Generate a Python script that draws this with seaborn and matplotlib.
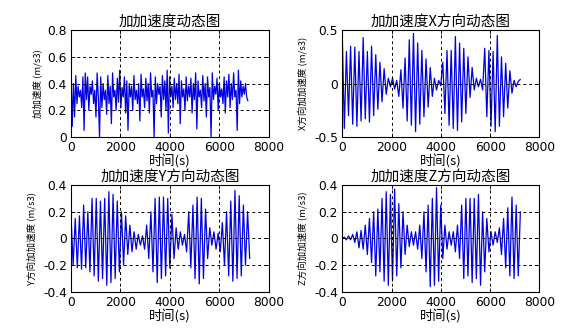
import numpy as np
import pandas as pd
import matplotlib
matplotlib.use("Agg")
import matplotlib.pyplot as plt
import seaborn as sns

sns.set_theme(style="white")
plt.rcParams['font.family'] = ['Noto Sans CJK SC', 'DejaVu Sans']
plt.rcParams['axes.unicode_minus'] = False

# ---- data ----
dt_total = 48   # sample spacing (s) of the magnitude trace
dt_axis = 85    # sample spacing (s) of the X/Y/Z traces

total_vals = [
    0.45, 0.08, 0.40, 0.15, 0.46, 0.25, 0.38, 0.30, 0.35, 0.22,
    0.45, 0.05, 0.48, 0.28, 0.45, 0.20, 0.38, 0.32, 0.42, 0.25,
    0.35, 0.15, 0.48, 0.30, 0.00, 0.45, 0.22, 0.40, 0.28, 0.35,
    0.17, 0.46, 0.25, 0.38, 0.10, 0.48, 0.30, 0.35, 0.20, 0.44,
    0.26, 0.50, 0.22, 0.37, 0.30, 0.45, 0.18, 0.42, 0.05, 0.40,
    0.30, 0.38, 0.20, 0.46, 0.28, 0.35, 0.25, 0.40, 0.12, 0.47,
    0.30, 0.36, 0.22, 0.44, 0.27, 0.40, 0.18, 0.48, 0.30, 0.35,
    0.00, 0.45, 0.25, 0.40, 0.32, 0.38, 0.15, 0.46, 0.28, 0.42,
    0.20, 0.50, 0.03, 0.45, 0.30, 0.38, 0.22, 0.44, 0.28, 0.40,
    0.25, 0.47, 0.10, 0.42, 0.30, 0.36, 0.20, 0.45, 0.27, 0.38,
    0.30, 0.44, 0.18, 0.40, 0.28, 0.48, 0.06, 0.42, 0.30, 0.35,
    0.22, 0.46, 0.27, 0.40, 0.15, 0.45, 0.30, 0.37, 0.00, 0.48,
    0.28, 0.38, 0.32, 0.44, 0.20, 0.40, 0.30, 0.36, 0.25, 0.45,
    0.18, 0.42, 0.30, 0.47, 0.22, 0.40, 0.28, 0.48, 0.30, 0.35,
    0.05, 0.50, 0.25, 0.42, 0.30, 0.38, 0.32, 0.40, 0.30, 0.27,
]

x_vals = [
    0.47, -0.42, 0.30, -0.30, 0.35, -0.38, 0.34, -0.40, 0.30, -0.35,
    0.43, -0.33, 0.30, -0.36, 0.35, -0.30, 0.27, -0.24, 0.20, -0.17,
    0.14, -0.10, 0.05, -0.03, 0.05, -0.05, 0.03, -0.12, 0.13, -0.23,
    0.24, -0.35, 0.41, -0.39, 0.47, -0.45, 0.38, -0.38, 0.31, -0.31,
    0.23, -0.22, 0.15, -0.12, 0.05, -0.06, 0.03, -0.02, 0.20, -0.28,
    0.31, -0.39, 0.31, -0.42, 0.44, -0.44, 0.38, -0.36, 0.33, -0.28,
    0.25, -0.13, 0.15, -0.06, 0.05, -0.03, 0.04, -0.06, 0.33, -0.31,
    0.31, -0.40, 0.30, -0.45, 0.45, -0.40, 0.25, -0.31, 0.19, -0.23,
    0.12, -0.09, 0.03, -0.03, 0.02, 0.04,
]

y_vals = [
    0.17, -0.20, 0.15, -0.22, 0.17, -0.23, 0.25, -0.22, 0.20, -0.25,
    0.30, -0.28, 0.30, -0.32, 0.28, -0.30, 0.30, -0.35, 0.35, -0.33,
    0.33, -0.30, 0.28, -0.25, 0.20, -0.20, 0.17, -0.12, 0.10, -0.10,
    0.05, -0.08, 0.03, -0.05, 0.02, -0.08, 0.10, -0.15, 0.20, -0.25,
    0.30, -0.33, 0.31, -0.30, 0.31, -0.28, 0.30, -0.22, 0.18, -0.15,
    0.08, -0.08, 0.05, -0.05, 0.03, -0.10, 0.20, -0.22, 0.25, -0.30,
    0.31, -0.34, 0.30, -0.30, 0.22, -0.15, 0.08, -0.05, 0.05, -0.08,
    0.04, -0.10, 0.12, -0.20, 0.20, -0.28, 0.28, -0.32, 0.36, -0.30,
    0.32, -0.28, 0.25, -0.20, 0.20, -0.15,
]

z_vals = [
    0.00, 0.01, -0.01, 0.02, -0.01, 0.03, -0.03, 0.05, -0.07, 0.06,
    -0.08, 0.10, -0.12, 0.15, -0.18, 0.20, -0.28, 0.22, -0.25, 0.30,
    -0.32, 0.35, -0.35, 0.33, -0.32, 0.37, -0.28, 0.26, -0.22, 0.20,
    -0.12, 0.10, -0.06, 0.05, -0.05, 0.05, -0.08, 0.10, -0.15, 0.20,
    -0.25, 0.25, -0.36, 0.30, -0.35, 0.38, -0.32, 0.25, -0.15, 0.10,
    -0.08, 0.05, -0.05, 0.05, -0.10, 0.10, -0.15, 0.25, -0.30, 0.30,
    -0.28, 0.30, -0.33, 0.30, -0.30, 0.33, -0.35, 0.20, -0.25, 0.15,
    -0.10, 0.05, -0.05, 0.05, -0.03, 0.08, -0.12, 0.15, -0.22, 0.23,
    -0.28, 0.31, -0.30, 0.25, -0.28, 0.20,
]

titles = ["加加速度动态图", "加加速度X方向动态图", "加加速度Y方向动态图", "加加速度Z方向动态图"]
ylabels = ["加加速度 (m/s3)", "X方向加加速度 (m/s3)", "Y方向加加速度 (m/s3)", "Z方向加加速度 (m/s3)"]
xlabel = "时间(s)"
xticks = [0, 2000, 4000, 6000, 8000]
yticks_list = [[0, 0.2, 0.4, 0.6, 0.8], [-0.5, 0, 0.5], [-0.4, -0.2, 0, 0.2, 0.4], [-0.4, -0.2, 0, 0.2, 0.4]]
ylims = [(0, 0.8), (-0.5, 0.5), (-0.4, 0.4), (-0.4, 0.4)]

series = [
    (np.arange(len(total_vals)) * dt_total, total_vals),
    (np.arange(len(x_vals)) * dt_axis, x_vals),
    (np.arange(len(y_vals)) * dt_axis, y_vals),
    (np.arange(len(z_vals)) * dt_axis, z_vals),
]

fig = plt.figure(figsize=(5.87, 3.31), dpi=100)
fig.patch.set_facecolor("white")

positions = [
    [0.121, 0.586, 0.337, 0.323],
    [0.583, 0.586, 0.336, 0.323],
    [0.121, 0.118, 0.337, 0.323],
    [0.583, 0.118, 0.336, 0.323],
]

def fmt(v):
    if v == 0:
        return "0"
    return "%g" % v

for i in range(4):
    ax = fig.add_axes(positions[i])
    t, v = series[i]
    df = pd.DataFrame({"t": t, "v": v})
    sns.lineplot(data=df, x="t", y="v", ax=ax, color=(0.0, 0.0, 0.9), linewidth=0.9, estimator=None)
    ax.set_xlim(0, 8000)
    ax.set_ylim(*ylims[i])
    ax.set_xticks(xticks)
    ax.set_yticks(yticks_list[i])
    ax.set_xticklabels([str(x) for x in xticks], fontfamily="DejaVu Sans", fontsize=8.8)
    ax.set_yticklabels([fmt(y) for y in yticks_list[i]], fontfamily="DejaVu Sans", fontsize=8.8)
    ax.tick_params(direction="in", length=3, width=0.6, top=True, right=True,
                   bottom=True, left=True, colors="black", pad=3)
    ax.grid(True, color="black", linestyle=(0, (3, 3)), linewidth=0.7)
    ax.set_axisbelow(False)
    for sp in ax.spines.values():
        sp.set_color("black")
        sp.set_linewidth(0.8)
        sp.set_visible(True)
    ax.set_title(titles[i], fontsize=10.5, pad=3, color="black")
    ax.set_xlabel(xlabel, fontsize=9.5, labelpad=0, color="black")
    ax.set_ylabel(ylabels[i], fontsize=6.8, labelpad=4, color="black")
    ax.set_facecolor("white")

fig.savefig("out.png", dpi=100, facecolor="white")
